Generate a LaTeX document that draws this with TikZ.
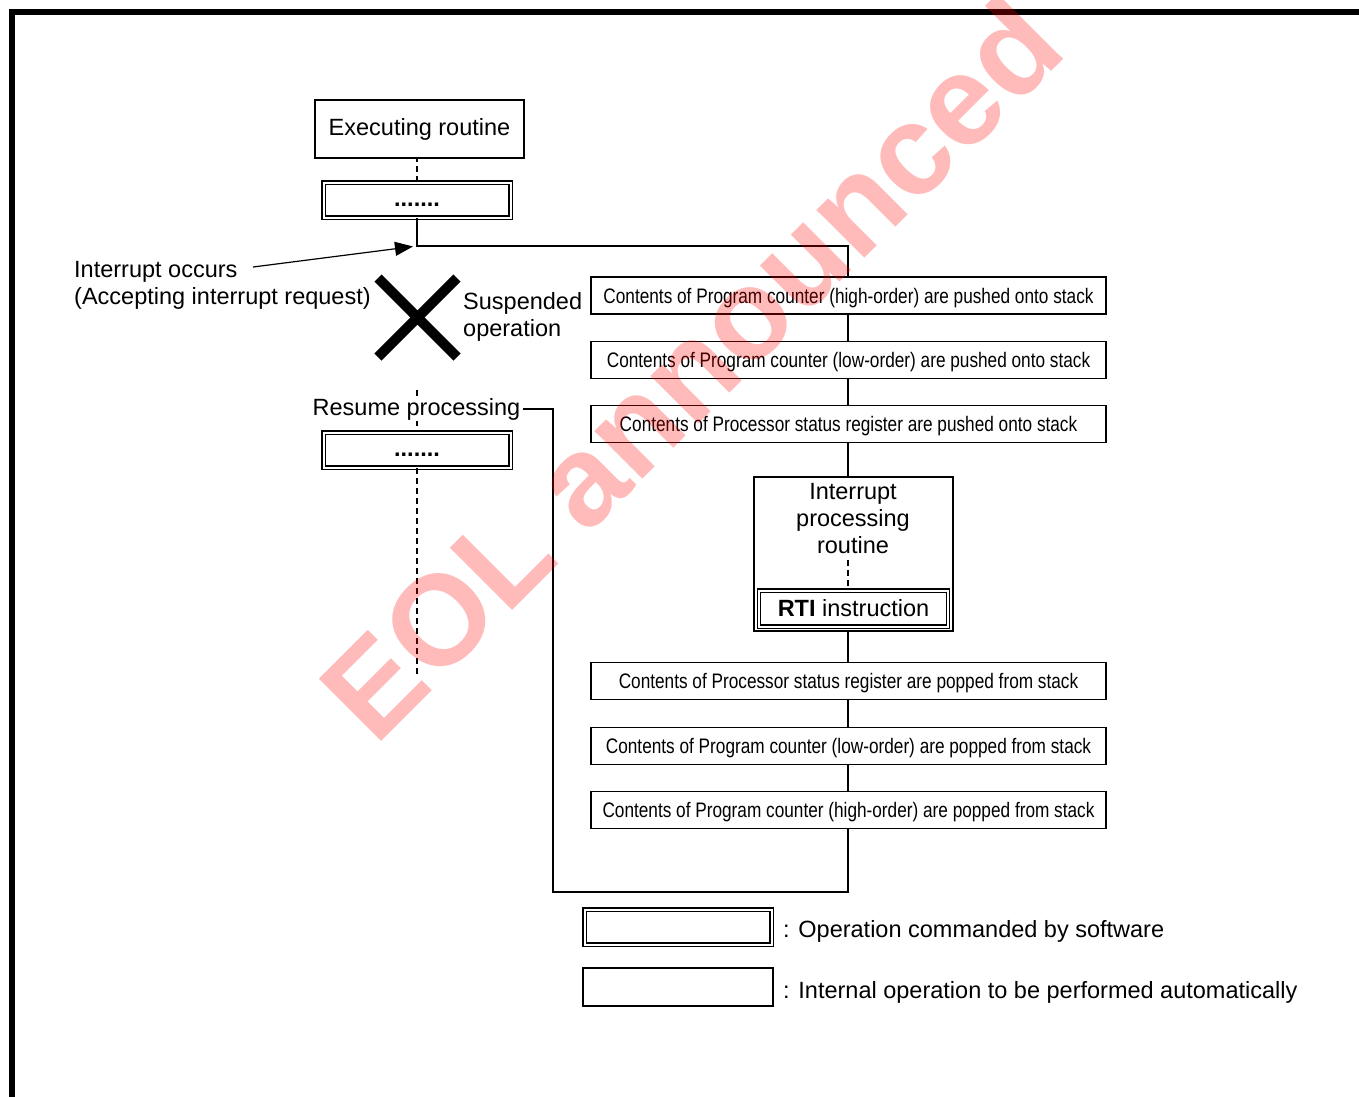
\documentclass[tikz,border=0pt]{standalone}
\usepackage{fontspec}
\setmainfont{Liberation Sans}
\newfontfamily\narrowfont[FakeStretch=0.82]{Liberation Sans}
\usetikzlibrary{arrows.meta}
\begin{document}
\begin{tikzpicture}[x=1pt,y=-1pt,
  every node/.style={font=\fontsize{23.5}{27}\selectfont},
  stepbox/.style={draw, line width=1.5, minimum width=515, minimum height=37, inner sep=0,
    text height=17, text depth=2, font=\narrowfont\fontsize{21}{25}\selectfont},
  swbox/.style={draw, double, line width=1.2, double distance=2, minimum width=187, minimum height=35, inner sep=0},
  dotsbox/.style={swbox, text height=17, text depth=5},
  conn/.style={line width=1.5},
  dashconn/.style={line width=1.3, dash pattern=on 6pt off 4pt},
  lbl/.style={inner sep=0}]
\useasboundingbox (0,0) rectangle (1359,1096);
\fill[white] (0,0) rectangle (1359,1096);
% frame
\draw[line width=6] (12,1110) -- (12,12) -- (1370,12);

% left column
\node[draw, line width=2, minimum width=209, minimum height=58, inner sep=0] (exec) at (419.5,129) {Executing routine};
\node[dotsbox] (dots1) at (417,200) {\textbf{.......}};
\draw[dashconn] (dots1.north) -- (dots1.north |- exec.south);
\coordinate (c0) at (417,246);
\draw[conn] (dots1.south) -- (c0) -| (848,277);

\node[lbl, align=left, anchor=west] (ioc) at (74,285) {Interrupt occurs\\(Accepting interrupt request)};
\coordinate (arrs) at (253,267);
\coordinate (arre) at (413,246.5);
\draw[line width=1.2, -{Triangle[length=18pt,width=14pt]}] (arrs) -- (arre);

% cross
\coordinate (xa) at (378,278);
\coordinate (xb) at (457,357);
\coordinate (xc) at (378,357);
\coordinate (xd) at (457,278);
\draw[line width=10] (xa) -- (xb);
\draw[line width=10] (xc) -- (xd);
\node[lbl, align=left, anchor=west] (susp) at (463,316.5) {Suspended\\operation};

\node[dotsbox] (dots2) at (417,450) {\textbf{.......}};
\coordinate (rtop) at (417,390);
\draw[dashconn] (rtop) -- (dots2.north);
\node[fill=white, inner sep=2, inner ysep=1] (resume) at (416.5,409) {Resume processing};
\coordinate (dend) at (417,677);
\draw[dashconn] (dots2.south) -- (dend);

% right column
\node[stepbox] (b1) at (848.5,295.5) {Contents of Program counter (high-order) are pushed onto stack};
\node[stepbox] (b2) at (848.5,360) {Contents of Program counter (low-order) are pushed onto stack};
\node[stepbox] (b3) at (848.5,424) {Contents of Processor status register are pushed onto stack};
\node[draw, line width=2, minimum width=199, minimum height=154, inner sep=0] (ipr) at (853.5,554) {};
\node[lbl, align=center] (iprt) at (853,519) {Interrupt\\processing\\routine};
\node[swbox, minimum width=189, minimum height=36] (rti) at (853.5,608.5) {\textbf{RTI} instruction};
\node[stepbox] (b4) at (848.5,681) {Contents of Processor status register are popped from stack};
\node[stepbox] (b5) at (848.5,746) {Contents of Program counter (low-order) are popped from stack};
\node[stepbox] (b6) at (848.5,810) {Contents of Program counter (high-order) are popped from stack};

\draw[conn] (b1.south -| 848,0) -- (b2.north -| 848,0);
\draw[conn] (b2.south -| 848,0) -- (b3.north -| 848,0);
\draw[conn] (b3.south -| 848,0) -- (ipr.north -| 848,0);
\draw[dashconn] (848,560) -- (rti.north -| 848,0);
\draw[conn] (ipr.south -| 848,0) -- (b4.north -| 848,0);
\draw[conn] (b4.south -| 848,0) -- (b5.north -| 848,0);
\draw[conn] (b5.south -| 848,0) -- (b6.north -| 848,0);
\coordinate (c1) at (553,892);
\draw[conn] (b6.south -| 848,0) |- (c1) |- (resume.east);

% legend
\node[swbox] (lg1) at (678,927) {};
\node[lbl, anchor=west] (lg1t) at (783,931) {: Operation commanded by software};
\node[draw, line width=1.2, minimum width=190, minimum height=38, inner sep=0] (lg2) at (678,987) {};
\node[lbl, anchor=west] (lg2t) at (783,992) {: Internal operation to be performed automatically};

% watermark
\node[rotate=45, text=red, opacity=0.27, inner sep=0, font=\bfseries\fontsize{128}{128}\selectfont] (wm) at (690,368) {EOL announced};
\end{tikzpicture}
\end{document}
